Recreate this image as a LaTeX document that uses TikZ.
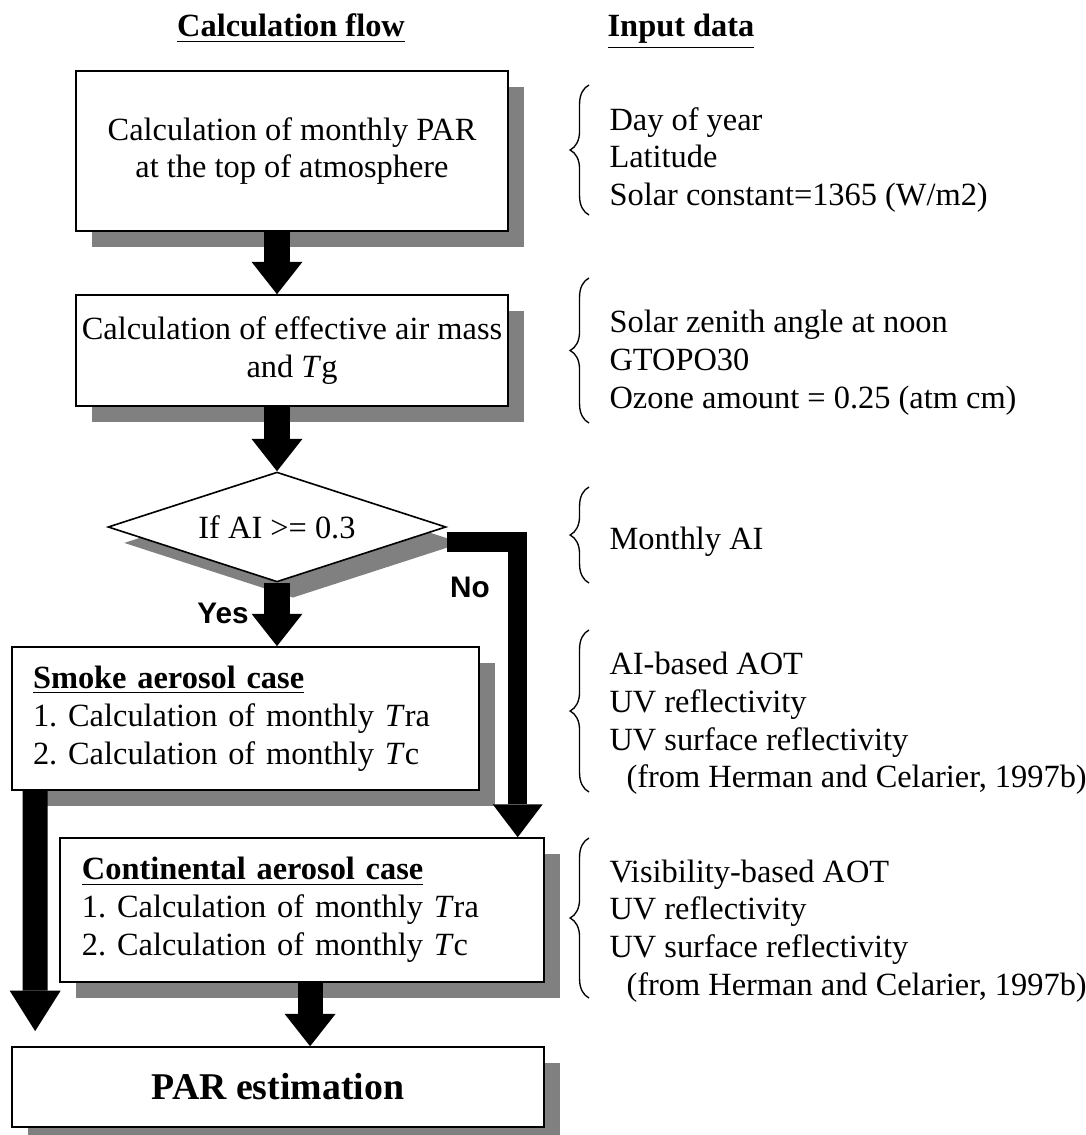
\documentclass[tikz,border=0pt]{standalone}
\usepackage{fontspec}
\setmainfont{Liberation Serif}
\newfontfamily\labelfont{Liberation Sans}
\usetikzlibrary{shapes.geometric,shadows,arrows.meta,decorations.pathreplacing}
\frenchspacing

\begin{document}
\begin{tikzpicture}[x=0.3704pt, y=-0.3704pt,
	every node/.style={font=\fontsize{12}{14}\selectfont},
	grayshadow/.style={drop shadow={shadow xshift=5.9pt, shadow yshift=-5.9pt, opacity=1, fill=black!50}},
	stepbox/.style={draw, line width=0.6pt, fill=white, inner sep=0pt, align=center, grayshadow},
	casebox/.style={draw, line width=0.6pt, fill=white, inner ysep=0pt, align=left, grayshadow},
	decision/.style={draw, line width=0.6pt, fill=white, shape=diamond, aspect=3.07, inner sep=0pt,
		minimum width=125.2pt, minimum height=40.7pt, grayshadow},
	flowarrow/.style={line width=9.3pt, -{Triangle[width=18.9pt, length=12pt, line width=0pt]}},
	noarrow/.style={line width=7.2pt, -{Triangle[width=18.5pt, length=12.2pt, line width=0pt]}},
	inbrace/.style={decorate, decoration={brace, amplitude=7pt}, line width=0.5pt},
	intext/.style={align=left, inner sep=0pt, anchor=west},
	headtext/.style={font=\fontsize{12}{14}\selectfont\bfseries, anchor=base},
	branchlabel/.style={font=\fontsize{11}{13}\selectfont\labelfont\bfseries, anchor=base}]
	\useasboundingbox (0,0) rectangle (1085,1135);

	\node[headtext] (flowhead) at (291,37) {\underline{Calculation flow}};
	\node[headtext] (datahead) at (681,37) {\underline{Input data}};

	% calculation flow
	\node[stepbox, minimum width=160pt, minimum height=59.3pt] (toa) at (292,151)
		{Calculation of monthly PAR\\at the top of atmosphere};
	\node[stepbox, minimum width=160pt, minimum height=41.1pt] (mass) at (292,350.5)
		{Calculation of effective air mass\\and \textit{T}g};
	\node[decision] (ai) at (277,527) {If AI >= 0.3};
	\node[casebox, inner xsep=7.8pt, text width=157.4pt, minimum height=53pt] (smoke) at (245.5,718.5)
		{\underline{\textbf{Smoke aerosol case}}\\1. Calculation of monthly \textit{T}ra\\2. Calculation of monthly \textit{T}c};
	\node[casebox, inner xsep=8.1pt, text width=163pt, minimum height=53.3pt] (cont) at (302,910)
		{\underline{\textbf{Continental aerosol case}}\\1. Calculation of monthly \textit{T}ra\\2. Calculation of monthly \textit{T}c};
	\node[stepbox, minimum width=197.1pt, minimum height=29.6pt, font=\fontsize{14}{16}\selectfont\bfseries] (par) at (278,1087)
		{PAR estimation};

	\draw[flowarrow] (toa.south -| ai.north) -- (mass.north -| ai.north);
	\draw[flowarrow] (mass.south -| ai.north) -- (ai.north);
	\draw[flowarrow] (ai.south) -- (ai.south |- smoke.north);
	\draw[noarrow] ([yshift=-5.6pt]ai.east) -| ([xshift=-10pt]cont.north east);
	\draw[flowarrow, -{Triangle[width=18.9pt, length=15pt, line width=0pt]}]
		([xshift=8.9pt]smoke.south west) -- ([xshift=8.9pt, yshift=5.6pt]par.north west);
	\draw[flowarrow] ([xshift=3pt]cont.south) -- ([xshift=3pt]cont.south |- par.north);

	\node[branchlabel] (yes) at (223,623) {Yes};
	\node[branchlabel] (no) at (470,597) {No};

	% input data
	\foreach \t/\b in {85/215, 278/423, 487/583, 630/792, 838/998}
		\draw[inbrace] (589,\b) -- (589,\t);
	\node[intext] (in1) at (609,160) {Day of year\\Latitude\\Solar constant=1365 (W/m2)};
	\node[intext] (in2) at (609,363) {Solar zenith angle at noon\\GTOPO30\\Ozone amount = 0.25 (atm cm)};
	\node[intext] (in3) at (609,542) {Monthly AI};
	\node[intext] (in4) at (609,723.5) {AI-based AOT\\UV reflectivity\\UV surface reflectivity\\\hspace*{6.3pt}(from Herman and Celarier, 1997b)};
	\node[intext] (in5) at (609,931) {Visibility-based AOT\\UV reflectivity\\UV surface reflectivity\\\hspace*{6.3pt}(from Herman and Celarier, 1997b)};
\end{tikzpicture}
\end{document}
